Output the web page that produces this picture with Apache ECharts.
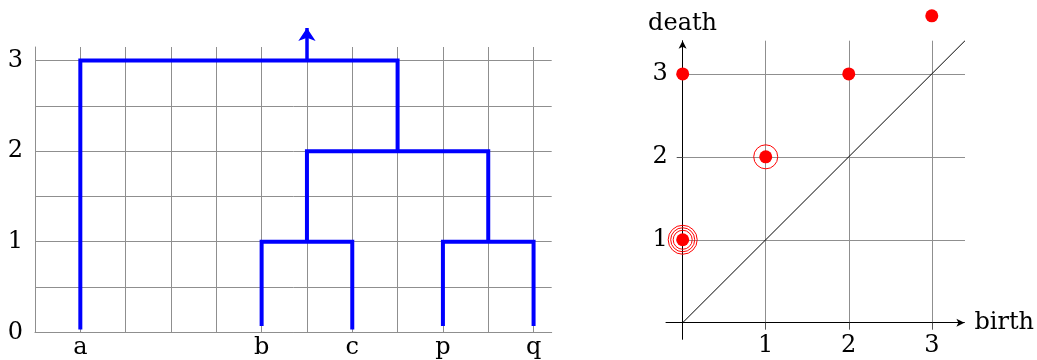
<!DOCTYPE html>
<html>
<head>
<meta charset="utf-8">
<script src="https://cdn.jsdelivr.net/npm/echarts@6.0.0/dist/echarts.min.js"></script>
<style>
  html, body { margin: 0; padding: 0; background: #fff; }
  #chart { width: 1037px; height: 360px; }
</style>
</head>
<body>
<div id="chart"></div>
<script>
// dendrogram: leaves and merges (merge = [left node, right node, height]; nodes 0-4 are leaves)
const leafLabels = ['a', 'b', 'c', 'p', 'q'];
const leafX = [0, 2, 3, 4, 5];
const leafBottom = [0.03, 0.07, 0.03, 0.07, 0.07];
const merges = [[1, 2, 1], [3, 4, 1], [5, 6, 2], [0, 7, 3]];
const rootArrowX = 2.5;
const rootArrowTop = 3.36;
const heightTicks = [0, 1, 2, 3];

// persistence diagram
const births = [0, 0, 1, 2, 3];
const deaths = [1, 3, 2, 3, 3.7];
const multiplicity = [4, 1, 2, 1, 1];
const pdTicks = [1, 2, 3];

const FONT = 'DejaVu Serif';
const FS = 24;
const gridGray = '#8f8f8f';

// build dendrogram polylines from merges
const nodeX = leafX.slice();
const nodeH = leafBottom.slice();
const branches = merges.map(([l, r, h]) => {
  const coords = [[nodeX[l], nodeH[l]], [nodeX[l], h], [nodeX[r], h], [nodeX[r], nodeH[r]]];
  nodeX.push((nodeX[l] + nodeX[r]) / 2);
  nodeH.push(h);
  return { coords };
});
const rootHeight = merges[merges.length - 1][2];

// rings around points with multiplicity > 1
const rings = [];
births.forEach((b, i) => {
  const n = multiplicity[i] - 1;
  for (let j = 0; j < n; j++) {
    rings.push({ value: [b, deaths[i]], symbolSize: 24 + 5 * (j - (n - 1) / 2) });
  }
});

const pdMax = 3.4;

const chart = echarts.init(document.getElementById('chart'));
const option = {
  animation: false,
  textStyle: { fontFamily: FONT },
  grid: [
    { left: 35, top: 47, width: 516.7, height: 285.3 },
    { left: 682.7, top: 40.7, width: 282.3, height: 282 },
    { left: 666, top: 40.7, width: 299, height: 298.6 }
  ],
  xAxis: [
    {
      gridIndex: 0, type: 'value', min: -0.5, max: 5.2, interval: 0.5,
      axisLine: { show: true, lineStyle: { color: gridGray, width: 1 } },
      axisTick: { show: false },
      axisLabel: {
        customValues: leafX, margin: 3, color: '#000', fontSize: FS, fontFamily: FONT,
        formatter: v => leafLabels[leafX.indexOf(v)] || ''
      },
      splitLine: { show: true, showMaxLine: false, lineStyle: { color: gridGray, width: 1 } }
    },
    {
      gridIndex: 1, type: 'value', min: 0, max: pdMax, interval: 1,
      axisLine: { show: false },
      axisTick: { show: true, customValues: pdTicks, length: 7, lineStyle: { color: '#555' } },
      axisLabel: { customValues: pdTicks, margin: 11, color: '#000', fontSize: FS, fontFamily: FONT },
      splitLine: { show: true, lineStyle: { color: gridGray, width: 1 } }
    },
    {
      gridIndex: 2, type: 'value', min: -0.2, max: pdMax,
      name: 'birth', nameLocation: 'end', nameGap: 10,
      nameTextStyle: { color: '#000', fontSize: FS, fontFamily: FONT },
      axisLine: { show: true, onZero: true, symbol: ['none', 'arrow'], symbolSize: [6, 8], lineStyle: { color: '#000', width: 1 } },
      axisTick: { show: false }, axisLabel: { show: false }, splitLine: { show: false }
    }
  ],
  yAxis: [
    {
      gridIndex: 0, type: 'value', min: 0, max: 3.15, interval: 0.5,
      axisLine: { show: true, onZero: false, lineStyle: { color: gridGray, width: 1 } },
      axisTick: { show: false },
      axisLabel: { customValues: heightTicks, margin: 12, color: '#000', fontSize: FS, fontFamily: FONT },
      splitLine: { show: true, showMaxLine: false, lineStyle: { color: gridGray, width: 1 } }
    },
    {
      gridIndex: 1, type: 'value', min: 0, max: pdMax, interval: 1,
      axisLine: { show: false },
      axisTick: { show: true, customValues: pdTicks, length: 6, lineStyle: { color: '#555' } },
      axisLabel: { customValues: pdTicks, margin: 15, color: '#000', fontSize: FS, fontFamily: FONT },
      splitLine: { show: true, lineStyle: { color: gridGray, width: 1 } }
    },
    {
      gridIndex: 2, type: 'value', min: -0.2, max: pdMax,
      name: 'death', nameLocation: 'end', nameGap: 5,
      nameTextStyle: { color: '#000', fontSize: FS, fontFamily: FONT },
      axisLine: { show: true, onZero: true, symbol: ['none', 'arrow'], symbolSize: [6, 8], lineStyle: { color: '#000', width: 1 } },
      axisTick: { show: false }, axisLabel: { show: false }, splitLine: { show: false }
    }
  ],
  series: [
    {
      type: 'lines', coordinateSystem: 'cartesian2d', xAxisIndex: 0, yAxisIndex: 0,
      polyline: true, silent: true,
      lineStyle: { color: '#0000ff', width: 4, cap: 'butt', join: 'miter', opacity: 1 },
      data: branches
    },
    {
      type: 'lines', coordinateSystem: 'cartesian2d', xAxisIndex: 0, yAxisIndex: 0,
      clip: false, silent: true,
      symbol: ['none', 'arrow'], symbolSize: 13,
      lineStyle: { color: '#0000ff', width: 3.5, opacity: 1 },
      data: [{ coords: [[rootArrowX, rootHeight], [rootArrowX, rootArrowTop]] }]
    },
    {
      type: 'line', xAxisIndex: 1, yAxisIndex: 1, silent: true,
      showSymbol: false, symbol: 'none',
      lineStyle: { color: '#000', width: 1 },
      data: [[0, 0], [pdMax, pdMax]]
    },
    {
      type: 'scatter', xAxisIndex: 1, yAxisIndex: 1, clip: false, silent: true,
      symbol: 'circle',
      itemStyle: { color: 'rgba(0,0,0,0)', borderColor: '#ff0000', borderWidth: 1, opacity: 1 },
      data: rings
    },
    {
      type: 'scatter', xAxisIndex: 1, yAxisIndex: 1, clip: false, silent: true,
      symbol: 'circle', symbolSize: 13,
      itemStyle: { color: '#ff0000', opacity: 1 },
      data: births.map((b, i) => [b, deaths[i]])
    }
  ]
};
option && chart.setOption(option);
</script>
</body>
</html>
